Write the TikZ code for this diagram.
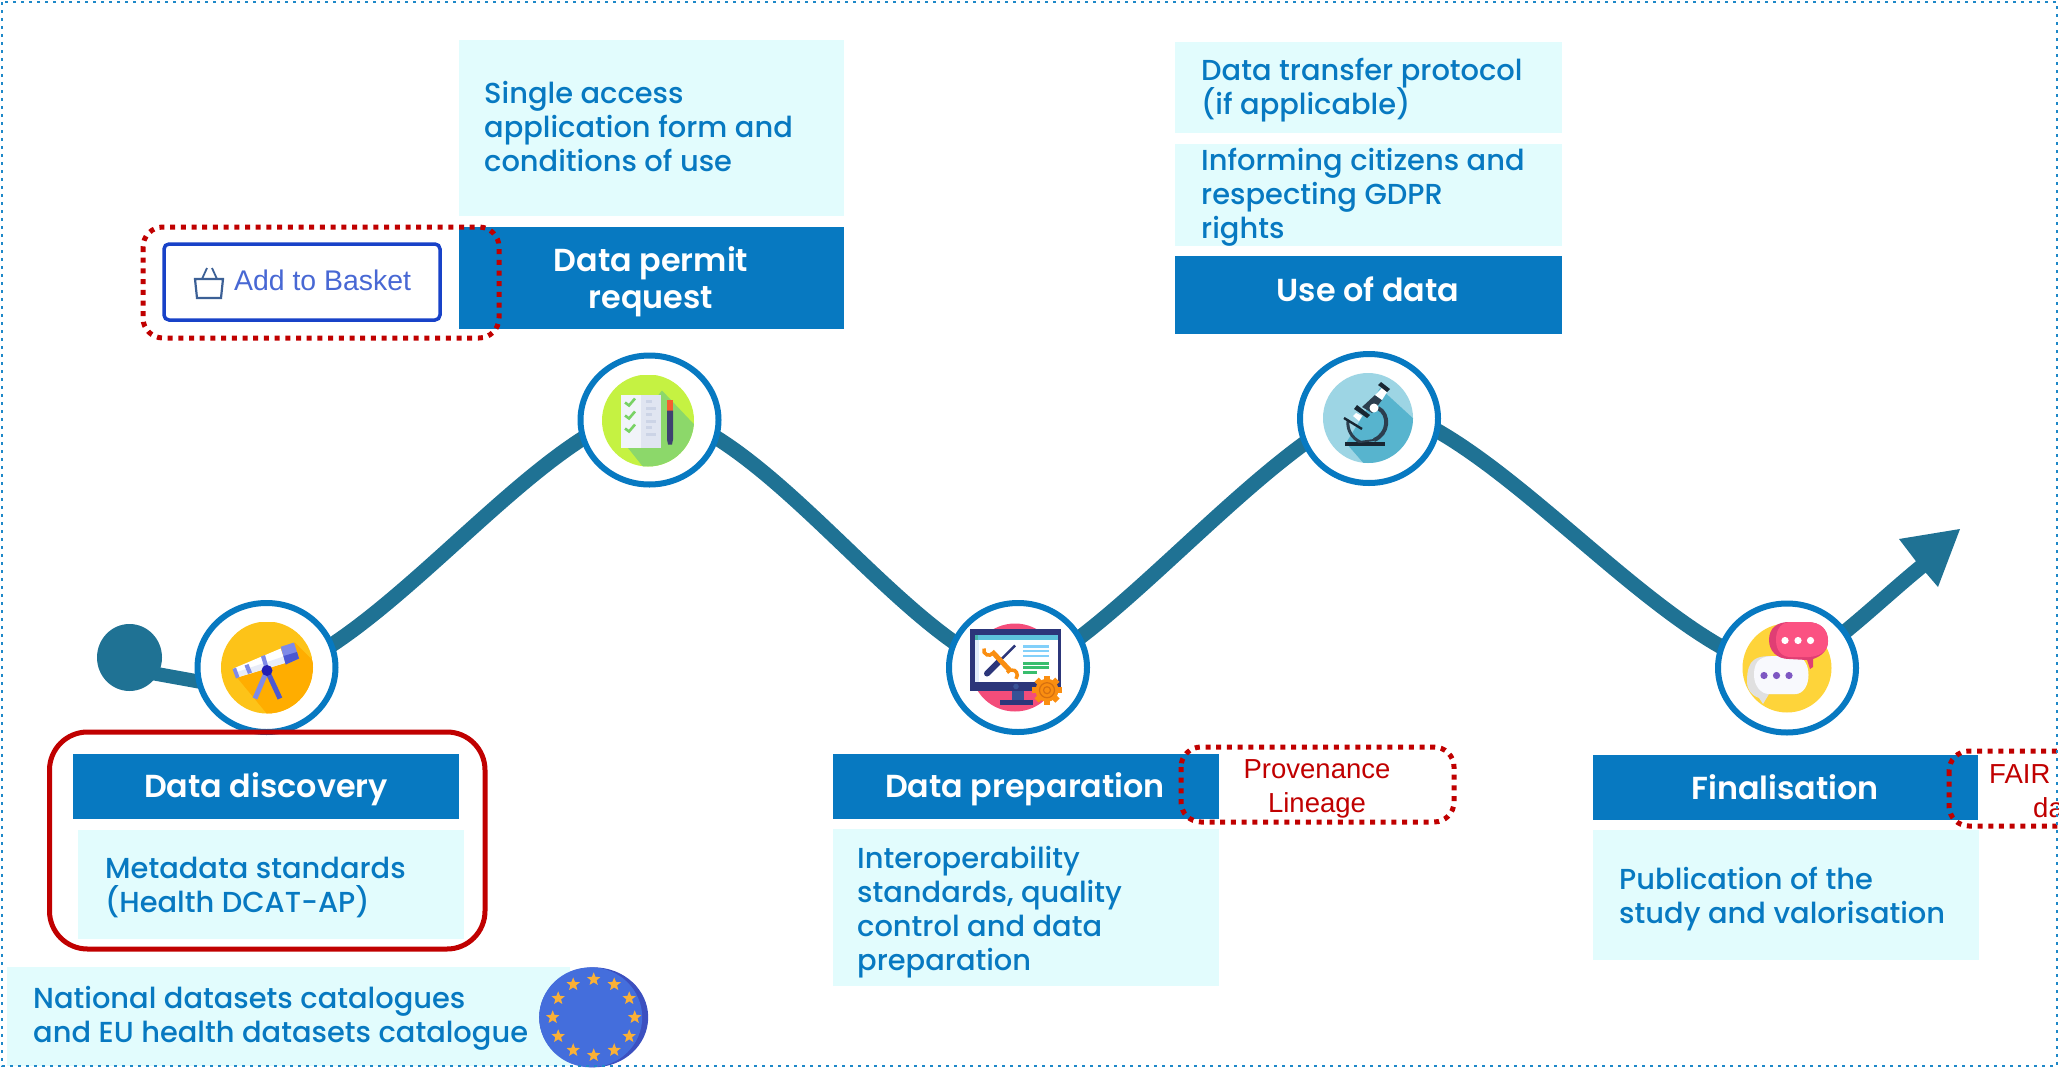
\documentclass[tikz,border=0pt]{standalone}
\usepackage{fontspec}
\setmainfont{Poppins}[UprightFont=* Medium,BoldFont=* SemiBold]
\newfontfamily\arialf{Liberation Sans}
\usetikzlibrary{shapes.geometric,shapes.misc,calc}
\definecolor{barblue}{HTML}{0779C1}
\definecolor{lightbox}{HTML}{E2FCFD}
\definecolor{wavec}{HTML}{1F7294}
\definecolor{redc}{HTML}{C00000}
\definecolor{frameblue}{HTML}{1E88C8}
\definecolor{telY}{RGB}{253,195,24}
\definecolor{telO}{RGB}{255,173,0}
\definecolor{telL}{RGB}{126,138,232}
\definecolor{telD}{RGB}{76,88,210}
\definecolor{telW}{RGB}{232,236,248}
\definecolor{telH}{RGB}{34,30,180}
\definecolor{chkY}{RGB}{197,242,66}
\definecolor{chkG}{RGB}{140,216,106}
\definecolor{chkA}{RGB}{241,244,249}
\definecolor{chkB}{RGB}{224,229,241}
\definecolor{chkC}{RGB}{204,212,230}
\definecolor{chkT}{RGB}{120,210,100}
\definecolor{chkR}{RGB}{244,94,48}
\definecolor{chkP}{RGB}{62,66,112}
\definecolor{monP}{RGB}{243,77,122}
\definecolor{monN}{RGB}{44,54,122}
\definecolor{monS}{RGB}{56,82,150}
\definecolor{monE}{RGB}{226,236,250}
\definecolor{monT}{RGB}{92,194,220}
\definecolor{monU}{RGB}{70,180,170}
\definecolor{monB}{RGB}{130,208,250}
\definecolor{monG}{RGB}{56,190,110}
\definecolor{monO}{RGB}{250,142,16}
\definecolor{monQ}{RGB}{214,112,16}
\definecolor{micL}{RGB}{157,213,228}
\definecolor{micD}{RGB}{87,180,206}
\definecolor{micN}{RGB}{44,62,78}
\definecolor{micK}{RGB}{24,38,50}
\definecolor{bubY}{RGB}{254,212,58}
\definecolor{bubG}{RGB}{224,224,224}
\definecolor{bubW}{RGB}{248,249,253}
\definecolor{bubV}{RGB}{126,87,194}
\definecolor{bubP}{RGB}{224,62,116}
\definecolor{bubR}{RGB}{251,82,130}
\definecolor{euD}{RGB}{60,80,192}
\definecolor{euM}{RGB}{68,110,220}
\definecolor{euS}{RGB}{250,176,54}
\definecolor{btnB}{RGB}{24,66,200}
\definecolor{btnT}{RGB}{72,104,212}
\definecolor{btnI}{RGB}{60,96,150}
\tikzset{
  bartext/.style={text=white,font=\fontsize{31.8}{38}\selectfont\bfseries,anchor=base,inner sep=0pt},
  ltext/.style={text=barblue,font=\fontsize{28.9}{34}\selectfont,anchor=base west,inner sep=0pt},
  redtext/.style={text=redc,font=\arialf\fontsize{27.5}{34}\selectfont,anchor=base,inner sep=0pt},
  ring/.style={ellipse,draw=barblue,line width=6pt,fill=white,minimum width=138pt,minimum height=129pt,inner sep=0pt},
  wave/.style={draw=wavec,line width=15pt},
  reddot/.style={draw=redc,line width=5pt,dash pattern=on 5pt off 5.7pt,rounded corners=20pt}
}
\begin{document}
\begin{tikzpicture}[x=1pt,y=-1pt]
\useasboundingbox (0,0) rectangle (2059,1068);
\clip (0,0) rectangle (2059,1068);
\coordinate (c1) at (266.5,667.5);
\coordinate (c2) at (649.5,420);
\coordinate (c3) at (1018,667.5);
\coordinate (c4) at (1369,418.5);
\coordinate (c5) at (1787,668);
\coordinate (start) at (129.5,657.5);
\coordinate (tail) at (135,670);
\coordinate (w0) at (262,693);
\coordinate (w1) at (262,678);
\coordinate (w2) at (650,410);
\coordinate (w3) at (1018,675);
\coordinate (w4) at (1369,405);
\coordinate (w5) at (1785,672);
\coordinate (w6) at (1922,566);
\coordinate (tip) at (1960,529);
\fill[wavec] (start) ellipse (32.5 and 33.5);
% wave
\draw[wave,line width=14pt] (tail) -- (w0);
\draw[wave] (w1) .. controls (382,650) and (540,425) .. (w2)
  .. controls (770,430) and (905,645) .. (w3)
  .. controls (1110,640) and (1260,450) .. (w4)
  .. controls (1490,420) and (1660,650) .. (w5)
  .. controls (1825,655) and (1880,600) .. (w6);
\fill[wavec] (tip) -- (1899,539) -- (1915,560) -- (1926,573) -- (1938,587) -- cycle;
% rings above wave
\node[ring] (n1) at (c1) {};
\node[ring] (n2) at (c2) {};
\node[ring] (n3) at (c3) {};
\node[ring] (n4) at (c4) {};
\node[ring] (n5) at (c5) {};

% Icon 1: telescope
\begin{scope}[shift={(267,667.5)}]
\begin{scope}
\clip (0,0) circle (46);
\fill[telY] (-46,-46) rectangle (46,46);
\fill[telO] (-30,10) -- (28,-25) -- (50,-3) -- (50,50) -- (3,50) -- cycle;
\end{scope}
\draw[telL,line width=5pt] (0,3) -- (-12,31);
\draw[telD,line width=5pt] (0,3) -- (13,31);
\fill[white] (-33.7,1) -- (-30,10) -- (18.7,-4.7) -- (13.7,-19) -- cycle;
\fill[telW] (-31.5,5) -- (-30,10) -- (18.7,-4.7) -- (16.5,-11) -- cycle;
\fill[telL] (13.7,-20.7) -- (27,-25) -- (32,-9) -- (18.7,-3) -- cycle;
\fill[telD] (16.5,-11.5) -- (30,-15.5) -- (32,-9) -- (18.7,-3) -- cycle;
\fill[telL] (-34.5,1.5) -- (-31,0) -- (-27.5,9.5) -- (-31,11) -- cycle;
\fill[telL] (-22.5,-2) -- (-18.5,-3.5) -- (-15,5) -- (-19,6.5) -- cycle;
\fill[telL] (-6,-11) -- (-2,-12.5) -- (1,-2) -- (-3,-1) -- cycle;
\fill[telH] (0,3) circle (5.5);
\end{scope}

% Icon 2: checklist
\begin{scope}[shift={(648,420.5)}]
\begin{scope}
\clip (0,0) circle (46);
\fill[chkY] (-46,-46) rectangle (46,46);
\fill[chkG] (-26,20) -- (14,-30) -- (50,8) -- (50,50) -- (-2,50) -- cycle;
\end{scope}
\fill[chkA] (-27,-26) rectangle (-7,27);
\fill[chkB] (-7,-26) rectangle (13,27);
\foreach \yy in {-19,-6,7}{
  \fill[chkC] (-2,\yy-2) rectangle (4,\yy+1);
  \fill[chkC] (-2,\yy+5) rectangle (8,\yy+8);
  \draw[chkT,line width=2.6pt] (-23,\yy+1) -- (-19,\yy+4) -- (-13,\yy-3);
}
\fill[chkR] (19,-21) rectangle (25,-10);
\fill[chkP] (19,-10) -- (25,-10) -- (25,19) -- (24,24) -- (20,24) -- (19,19) -- cycle;
\end{scope}

% Icon 3: monitor
\begin{scope}[shift={(1018,667.5)}]
\fill[monP] (-3,0) circle (44);
\fill[monS] (-6,20) rectangle (6,33);
\fill[monN] (-18,32) rectangle (15,37);
\fill[monN] (-48,-38.3) rectangle (43,23.7);
\fill[monE] (-43,-33) rectangle (40,14.3);
\fill[white] (-39,-28) rectangle (40,14.3);
\fill[monT] (-43,-33) rectangle (40,-28);
\fill[monU] (-43,-33) rectangle (-40,-28);
\fill[monB] (5,-22.5) rectangle (31,-20);
\fill[monB] (5,-18) rectangle (31,-15.5);
\fill[monB] (5,-13) rectangle (31,-10.5);
\fill[monG] (5,-5.5) rectangle (31,-3);
\fill[monG] (5,-1.5) rectangle (31,1);
\fill[monG] (5,3.5) rectangle (18.7,6);
\draw[monN,line width=2.5pt] (-3,-22) -- (-18,-7);
\draw[monN,line width=6pt,line cap=round] (-18,-7) -- (-31,6);
\draw[monO,line width=5pt] (-26,-16) -- (-9,2);
\draw[monO,line width=3.5pt] (-34,-19) arc (200:40:5);
\draw[monO,line width=3.5pt] (-11,5) arc (210:400:5.5);
\fill[monS] (-2,19) circle (2.8);
\foreach \aa in {0,45,...,315}{\fill[monO,rotate around={\aa:(29,22.7)}] (26,8) rectangle (32,14);}
\fill[monO] (29,22.7) circle (11.5);
\draw[monQ,line width=1.2pt] (29,22.7) circle (7.5);
\draw[monQ,line width=1.2pt] (29,22.7) circle (3.5);
\end{scope}

% Icon 4: microscope
\begin{scope}[shift={(1368,418)}]
\begin{scope}
\clip (0,0) circle (45);
\fill[micL] (-46,-46) rectangle (46,46);
\fill[micD] (-22,25) -- (12,-30) -- (48,3) -- (48,48) -- (-2,48) -- cycle;
\end{scope}
\fill[micK] (-23,24) rectangle (17,28);
\draw[micN,line width=3pt] (-20,3) .. controls (-21,12) and (-16,20) .. (-8,24);
\draw[micN,line width=4pt] (10,-10) .. controls (22,-4) and (21,16) .. (6,22);
\draw[micN,line width=2pt] (-8,24) -- (6,22);
\draw[micK,line width=2.4pt] (-24,0) -- (-6,11);
\fill[micN] (-6,-11) -- (7,-23) -- (14,-18) -- (4,-5) -- cycle;
\fill[micK] (-14,-9) -- (-11,-13) -- (2,-3) -- (-1,0) -- cycle;
\fill[white] (-12,-5) -- (-6,-2) -- (-9,3) -- (-15,-2) -- cycle;
\fill[white] (7,-23) -- (14,-30) -- (19,-26) -- (14,-18) -- cycle;
\fill[micK] (10,-33) -- (13,-36) -- (22,-29) -- (19,-26) -- cycle;
\fill[white] (6,-10) circle (4.5);
\end{scope}

% Icon 5: bubbles
\begin{scope}[shift={(1787,668)}]
\fill[bubY] (0,0) circle (44.5);
\fill[bubG] (-40,13) .. controls (-40,-10) and (-30,-12) .. (-15,-12) -- (10,-12) .. controls (20,-12) and (20,26) .. (10,26) -- (-18,26) -- (-24,36) -- (-28,30) .. controls (-36,27) and (-40,22) .. (-40,13) -- cycle;
\fill[bubW] (-33,7) .. controls (-33,-10) and (-24,-12) .. (-10,-12) -- (8,-12) .. controls (26,-12) and (26,26) .. (8,26) -- (-18,26) .. controls (-26,26) and (-33,18) .. (-33,7) -- cycle;
\foreach \xx in {-23,-10.5,2}{\fill[bubV] (\xx,7.5) circle (3.6);}
\fill[bubP] (-18,-28) .. controls (-18,-40) and (-10,-46) .. (2,-46) -- (20,-46) .. controls (34,-46) and (41,-38) .. (41,-27) .. controls (41,-18) and (35,-12) .. (26,-9) -- (26,-1) -- (23,1) -- (20,-8) -- (2,-9) .. controls (-10,-9) and (-18,-17) .. (-18,-28) -- cycle;
\fill[bubR] (-11,-28) .. controls (-11,-40) and (-5,-46) .. (4,-46) -- (20,-46) .. controls (34,-46) and (41,-38) .. (41,-27) .. controls (41,-18) and (35,-12) .. (22,-11) -- (4,-11) .. controls (-5,-11) and (-11,-17) .. (-11,-28) -- cycle;
\foreach \xx in {-2,11,23.5}{\fill[white] (\xx,-27.5) circle (3.6);}
\end{scope}

% discovery
\draw[redc,line width=5pt,rounded corners=38pt] (49.5,732) rectangle (485,949);
\fill[barblue] (73,754) rectangle (459,819);
\fill[lightbox] (78,830) rectangle (464,939);
\node[bartext] (t1) at (266,797) {Data discovery};
\node[ltext] (t1a) at (105,878) {Metadata standards};
\node[ltext] (t1b) at (105,912) {(Health DCAT-AP)};
% bottom
\fill[lightbox] (7,967) rectangle (570,1066);
\node[ltext] (t0a) at (33,1008) {National datasets catalogues};
\node[ltext] (t0b) at (33,1042) {and EU health datasets catalogue};
\begin{scope}[shift={(593.7,1017.3)}]
\fill[euD] (0,0) ellipse (54.5 and 50);
\fill[euM] (-3,0) ellipse (51.5 and 50);
\foreach \aa in {0,30,...,330}{
  \node[star,star points=5,star point ratio=2.3,fill=euS,draw=none,inner sep=0pt,minimum size=14pt] at (\aa:41 and 38) {};
}
\end{scope}

% permit
\fill[lightbox] (459,40) rectangle (844,216);
\fill[barblue] (459,227) rectangle (844,329);
\node[ltext] (t2a) at (484,103) {Single access};
\node[ltext] (t2b) at (484,137) {application form and};
\node[ltext] (t2c) at (484,171) {conditions of use};
\node[bartext] (t2) at (651,271) {Data permit};
\node[bartext] (t2x) at (651,308) {request};
\draw[btnB,line width=3.5pt,fill=white,rounded corners=5pt] (164,244) rectangle (440,320);
\node[text=btnT,font=\arialf\fontsize{28.4}{34}\selectfont,anchor=base west,inner sep=0pt] (bask) at (234,290) {Add to Basket};
\draw[btnI,line width=2.2pt] (195,279) -- (223,279) -- (221,298) -- (197,298) -- cycle;
\draw[btnI,line width=1.8pt] (202,279) -- (207,268);
\draw[btnI,line width=1.8pt] (217,279) -- (212,268);
\draw[reddot] (143,227) rectangle (499,338);

% use of data
\fill[lightbox] (1175,42) rectangle (1562,133);
\fill[lightbox] (1175,144) rectangle (1562,246);
\fill[barblue] (1175,256) rectangle (1562,334);
\node[ltext] (t4a) at (1201,80) {Data transfer protocol};
\node[ltext] (t4b) at (1201,114) {(if applicable)};
\node[ltext] (t4c) at (1201,170) {Informing citizens and};
\node[ltext] (t4d) at (1201,204) {respecting GDPR};
\node[ltext] (t4e) at (1201,238) {rights};
\node[bartext] (t4) at (1368,301) {Use of data};

% preparation
\fill[barblue] (833,754) rectangle (1219,819);
\fill[lightbox] (833,829) rectangle (1219,986);
\node[bartext] (t3) at (1025,797) {Data preparation};
\node[ltext] (t3a) at (857,868) {Interoperability};
\node[ltext] (t3b) at (857,902) {standards, quality};
\node[ltext] (t3c) at (857,936) {control and data};
\node[ltext] (t3d) at (857,970) {preparation};
\draw[reddot] (1181,747) rectangle (1454,822);
\node[redtext] (p1) at (1317,778) {Provenance};
\node[redtext] (p2) at (1317,812) {Lineage};

% finalisation
\fill[barblue] (1593,755) rectangle (1978,820);
\fill[lightbox] (1593,830) rectangle (1979,960);
\node[bartext] (t5) at (1785,799) {Finalisation};
\node[ltext] (t5a) at (1619,889) {Publication of the};
\node[ltext] (t5b) at (1619,923) {study and valorisation};
\draw[reddot] (1949,751) rectangle (2090,826);
\node[redtext,anchor=base west] (f1) at (1989,783) {FAIR};
\node[redtext,anchor=base west] (f2) at (2033,817) {da};
% frame
\draw[frameblue,line width=2.7pt,dash pattern=on 2.7pt off 5.3pt] (2,2) rectangle (2057,1066);
\end{tikzpicture}
\end{document}
